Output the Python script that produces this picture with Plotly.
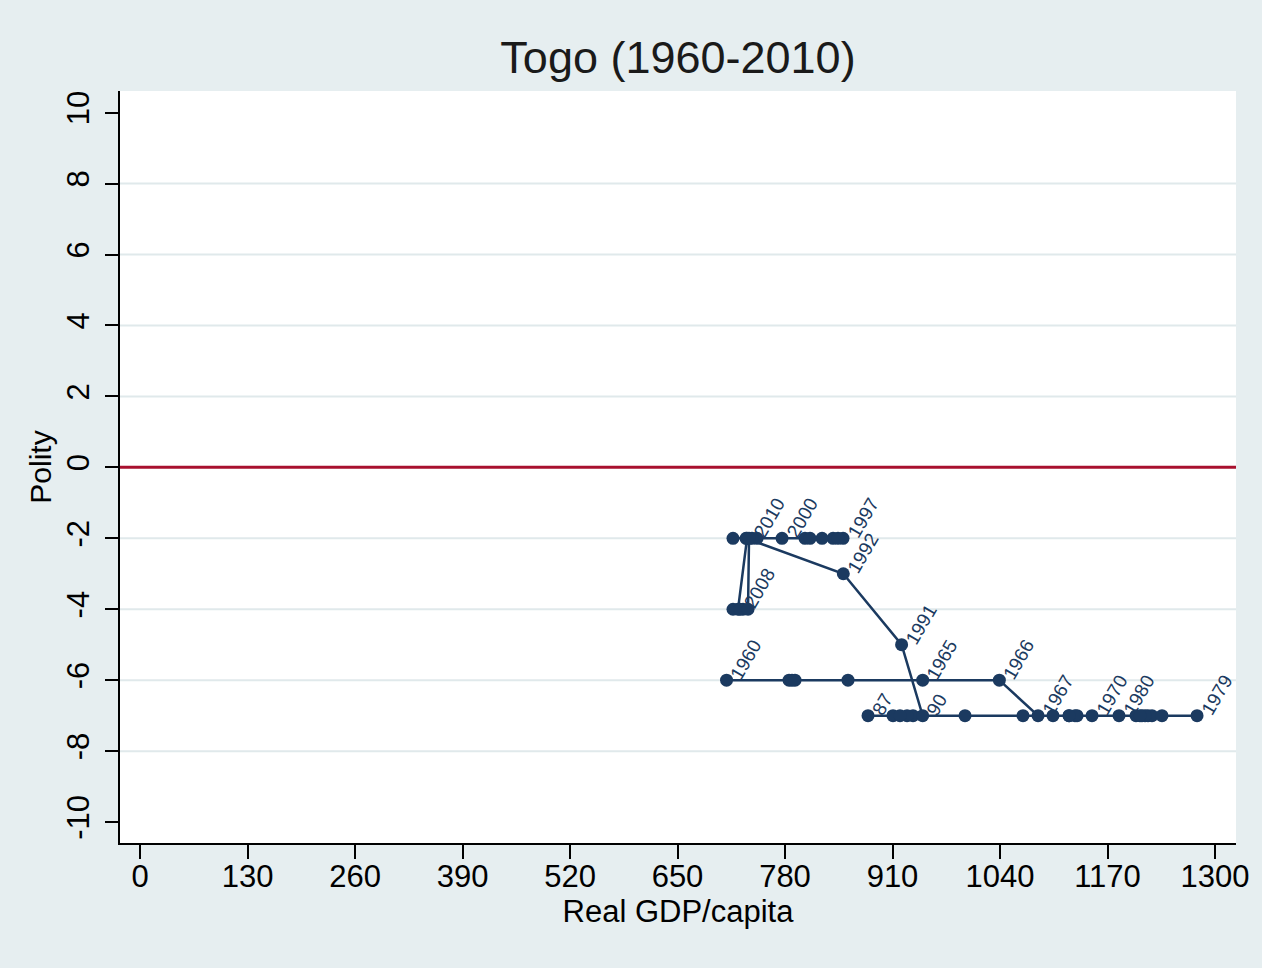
import math
import plotly.graph_objects as go

# ---- data ----
years = list(range(1960, 2011))
gdp = [
    709.3, 784.9, 788.5, 792.1, 856.2, 946.5, 1039.2,            # 1960-1966
    1086.0, 1104.1, 1123.5, 1151.3, 1133.2, 1204.5, 1211.7,      # 1967-1973
    1219.0, 1223.8, 1235.9, 1215.4, 1209.3, 1278.3, 1183.9,      # 1974-1980
    1130.7, 1123.5, 1067.8, 997.7, 934.8, 927.6, 880.4,          # 1981-1987
    910.6, 919.1, 946.5, 921.0, 850.5,                           # 1988-1992
    732.9, 717.1, 804.2, 838.1, 850.2, 844.1, 824.8, 776.4,      # 1993-2000
    810.3, 746.2, 740.1, 734.1,                                  # 2001-2004
    723.2, 717.1, 729.2, 725.6, 735.3,                           # 2005-2009
    736.5,                                                       # 2010
]
polity = [
    -6, -6, -6, -6, -6, -6, -6,
    -7, -7, -7, -7, -7, -7, -7,
    -7, -7, -7, -7, -7, -7, -7,
    -7, -7, -7, -7, -7, -7, -7,
    -7, -7, -7, -5, -3,
    -2, -2, -2, -2, -2, -2, -2, -2,
    -2, -2, -2, -2,
    -4, -4, -4, -4, -4,
    -2,
]
label_text = {
    1960: "1960", 1965: "1965", 1966: "1966", 1967: "1967", 1970: "1970",
    1979: "1979", 1980: "1980", 1987: "87", 1990: "90", 1991: "1991",
    1992: "1992", 1997: "1997", 2000: "2000", 2008: "2008", 2010: "2010",
}
xtick_vals = [0, 130, 260, 390, 520, 650, 780, 910, 1040, 1170, 1300]
ytick_vals = [10, 8, 6, 4, 2, 0, -2, -4, -6, -8, -10]

NAVY = "#1b3a60"
RED = "#a8102e"
BG = "#e6eef0"
FONT = "Liberation Sans, Arial, sans-serif"

fig = go.Figure()
fig.add_trace(go.Scatter(
    x=gdp, y=polity, mode="lines+markers",
    line=dict(color=NAVY, width=2.5),
    marker=dict(color=NAVY, size=13),
    hoverinfo="skip", showlegend=False,
))

# rotated point labels (Stata style: anchored at 3 o'clock, rotated 60 degrees)
lab_font = 19
gap = 9
ang = math.radians(60)
for yr, g, p in zip(years, gdp, polity):
    if yr in label_text:
        t = label_text[yr]
        L = len(t) * 0.556 * lab_font
        fig.add_annotation(
            x=g, y=p, text=t, showarrow=False, textangle=-60,
            xanchor="center", yanchor="middle",
            xshift=gap + (L / 2) * math.cos(ang), yshift=(L / 2) * math.sin(ang) + 2,
            font=dict(family=FONT, size=lab_font, color=NAVY),
        )

# horizontal grid lines (not at the ends)
for v in ytick_vals:
    if abs(v) < 10 and v != 0:
        fig.add_shape(type="line", xref="paper", x0=0, x1=1, yref="y", y0=v, y1=v,
                      line=dict(color="#e0e9eb", width=2), layer="below")
# reference line at 0
fig.add_shape(type="line", xref="paper", x0=0, x1=1, yref="y", y0=0, y1=0,
              line=dict(color=RED, width=3), layer="above")

fig.update_layout(
    width=1262, height=968,
    paper_bgcolor=BG, plot_bgcolor="white",
    margin=dict(l=120, r=26, t=91, b=125),
    font=dict(family=FONT, color="black"),
    title=dict(text="Togo (1960-2010)", x=678 / 1262, xanchor="center",
               y=1 - 57 / 968, yref="container", yanchor="middle",
               font=dict(family=FONT, size=45, color="#1a1a1a")),
    xaxis=dict(
        range=[-24.2, 1325.4], tickvals=xtick_vals,
        ticktext=[str(v) for v in xtick_vals],
        showgrid=False, zeroline=False, showline=True, linecolor="black", linewidth=2,
        ticks="outside", ticklen=14, tickwidth=2, tickcolor="black",
        tickfont=dict(size=31, color="black"), ticklabelstandoff=-9,
        title=dict(text="Real GDP/capita", font=dict(size=31, color="black"), standoff=2),
    ),
    yaxis=dict(
        range=[-10.59, 10.61], tickvals=ytick_vals,
        ticktext=[str(v) for v in ytick_vals], tickangle=-90,
        showgrid=False, zeroline=False, showline=True, linecolor="black", linewidth=2,
        ticks="outside", ticklen=13, tickwidth=2, tickcolor="black",
        tickfont=dict(size=31, color="black"), ticklabelstandoff=4,
        title=dict(text="Polity", font=dict(size=30, color="black"), standoff=0),
    ),
)

fig.write_html(
    "out.html",
    config={"displayModeBar": False},
    post_script="document.body.style.margin='0';document.body.style.padding='0';"
                "document.body.style.background='" + BG + "';"
                "document.documentElement.style.overflow='hidden';",
)
